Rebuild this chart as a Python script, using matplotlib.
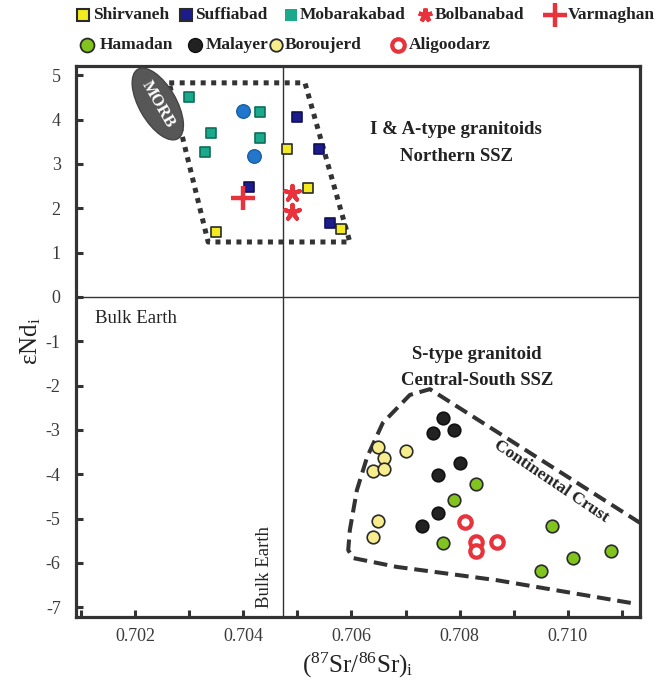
import matplotlib
matplotlib.use("Agg")
import matplotlib.pyplot as plt
import matplotlib.patches as mpatches
import matplotlib.transforms as mtransforms
from matplotlib.ticker import MultipleLocator

plt.rcParams["font.family"] = ["Liberation Serif", "DejaVu Serif"]
plt.rcParams["mathtext.fontset"] = "custom"
plt.rcParams["mathtext.rm"] = "Liberation Serif"
plt.rcParams["mathtext.it"] = "Liberation Serif:italic"
plt.rcParams["axes.unicode_minus"] = False

# ── data: (87Sr/86Sr)i and eNd(i) per locality ─────────────────────────── #
shirvaneh_sr = [0.7048, 0.7052, 0.7035, 0.7058]
shirvaneh_nd = [3.33, 2.45, 1.46, 1.53]
suffiabad_sr = [0.7050, 0.7054, 0.7041, 0.7056]
suffiabad_nd = [4.06, 3.34, 2.48, 1.66]
mobarakabad_sr = [0.7030, 0.7043, 0.7034, 0.7043, 0.7033]
mobarakabad_nd = [4.52, 4.17, 3.70, 3.58, 3.28]
bolbanabad_sr = [0.7049, 0.7049]
bolbanabad_nd = [2.34, 1.91]
varmaghan_sr = [0.7040]
varmaghan_nd = [2.24]
other_sr = [0.7040, 0.7042]          # blue circles (not in legend)
other_nd = [4.20, 3.17]

hamadan_sr = [0.7083, 0.7079, 0.7077, 0.7097, 0.7101, 0.7108, 0.7095]
hamadan_nd = [-4.23, -4.58, -5.54, -5.16, -5.90, -5.73, -6.18]
malayer_sr = [0.7077, 0.7075, 0.7079, 0.7080, 0.7076, 0.7076, 0.7073]
malayer_nd = [-2.74, -3.08, -3.00, -3.75, -4.02, -4.88, -5.16]
boroujerd_sr = [0.7065, 0.7070, 0.7066, 0.7064, 0.7066, 0.7065, 0.7064]
boroujerd_nd = [-3.38, -3.48, -3.63, -3.93, -3.88, -5.05, -5.42]
aligoodarz_sr = [0.7081, 0.7083, 0.7083, 0.7087]
aligoodarz_nd = [-5.07, -5.52, -5.73, -5.52]

# field outlines
north_field_sr = [0.70263, 0.70514, 0.70597, 0.70335, 0.70263]
north_field_nd = [4.83, 4.83, 1.24, 1.24, 4.83]
crust_field_sr = [0.71134, 0.70745, 0.70708, 0.70658, 0.70629, 0.70610,
                  0.70597, 0.70594, 0.70603, 0.70684, 0.70869, 0.71120]
crust_field_nd = [-5.10, -2.08, -2.21, -2.84, -3.61, -4.36,
                  -5.26, -5.71, -5.89, -6.09, -6.39, -6.91]

BULK_EARTH_SR = 0.70474
X_TICKS = [0.702, 0.704, 0.706, 0.708, 0.710]
Y_TICKS = list(range(-7, 6))

RED = "#e8323c"
EDGE = "#2a2a2a"
GRAY = "#333333"

fig = plt.figure(figsize=(6.71, 6.89), dpi=100)
ax = fig.add_axes([76 / 671, 72 / 689, 564 / 671, 551 / 689])

ax.set_xlim(0.700907, 0.711335)
ax.set_ylim(-7.22, 5.21)

# reference lines
ax.axhline(0, color=GRAY, lw=1.0, zorder=1)
ax.axvline(BULK_EARTH_SR, color=GRAY, lw=1.0, zorder=1)

# fields
ax.plot(north_field_sr, north_field_nd, color=GRAY, lw=3.6,
        linestyle=(0, (1, 1.1)), dash_capstyle="butt", zorder=2)
ax.plot(crust_field_sr, crust_field_nd, color=GRAY, lw=2.9,
        linestyle=(0, (3.4, 1.7)), solid_joinstyle="round", zorder=2)

# MORB ellipse (sized in inches around an axes-space centre)
morb_tr = fig.dpi_scale_trans + mtransforms.ScaledTranslation(0.145, 0.931, ax.transAxes)
ax.add_patch(mpatches.Ellipse((0, 0), 0.37, 0.80, angle=30, transform=morb_tr,
                              facecolor="#575757", edgecolor="#444444", lw=1, zorder=6))
ax.text(0.145, 0.931, "MORB", transform=ax.transAxes, rotation=-60, ha="center",
        va="center", color="white", fontsize=12, fontweight="bold", zorder=7)

# samples
sq = dict(marker="s", s=62, linewidths=1.2, zorder=5)
ax.scatter(shirvaneh_sr, shirvaneh_nd, c="#f3ea1f", edgecolors=EDGE, **sq)
ax.scatter(suffiabad_sr, suffiabad_nd, c="#1c1c8e", edgecolors="#111155", **sq)
ax.scatter(mobarakabad_sr, mobarakabad_nd, c="#1aa98d", edgecolors="#0e6e5a", **sq)
ax.scatter(other_sr, other_nd, marker="o", s=95, c="#2277cc", edgecolors="#1a5fa0",
           linewidths=1, zorder=5)
ax.scatter(bolbanabad_sr, bolbanabad_nd, marker=(5, 2, 0), s=120, c=RED,
           linewidths=3, zorder=5)
ax.scatter(varmaghan_sr, varmaghan_nd, marker="+", s=300, c=RED, linewidths=3.2, zorder=5)

circ = dict(marker="o", s=82, linewidths=1.2, zorder=5)
ax.scatter(hamadan_sr, hamadan_nd, c="#82c41e", edgecolors=EDGE, **circ)
ax.scatter(malayer_sr, malayer_nd, c="#222222", edgecolors="#111111", **circ)
ax.scatter(boroujerd_sr, boroujerd_nd, c="#f7ed8c", edgecolors=EDGE, **circ)
ax.scatter(aligoodarz_sr, aligoodarz_nd, marker="o", s=80, facecolors="white",
           edgecolors=RED, linewidths=3, zorder=5)

# annotations
bold = dict(fontsize=13.5, fontweight="bold", color="#222222", ha="center",
            va="center", transform=ax.transAxes)
ax.text(0.674, 0.884, "I & A-type granitoids", **bold)
ax.text(0.674, 0.835, "Northern SSZ", **bold)
ax.text(0.711, 0.4755, "S-type granitoid", **bold)
ax.text(0.711, 0.430, "Central-South SSZ", **bold)
ax.text(0.842, 0.247, "Continental Crust", fontsize=12.5, fontweight="bold",
        color="#222222", ha="center", va="center", rotation=-34,
        transform=ax.transAxes)
ax.text(0.034, 0.542, "Bulk Earth", fontsize=13.5, color="#222222", ha="left",
        va="center", transform=ax.transAxes)
ax.text(0.335, 0.091, "Bulk Earth", fontsize=13.5, color="#222222", ha="center",
        va="center", rotation=90, transform=ax.transAxes)

# axes styling
for sp in ax.spines.values():
    sp.set_linewidth(2.3)
    sp.set_color(GRAY)
ax.set_xticks(X_TICKS)
ax.set_xticklabels([f"{v:.3f}" for v in X_TICKS])
ax.xaxis.set_minor_locator(MultipleLocator(0.001))
ax.set_yticks(Y_TICKS)
ax.tick_params(which="both", direction="in", length=5, width=2.2, color=GRAY,
               top=False, right=False, labelsize=13, labelcolor="#3a3a3a")
ax.tick_params(axis="x", pad=8)
ax.tick_params(axis="y", pad=11)
ax.set_xlabel(r"($\mathregular{^{87}}$Sr/$\mathregular{^{86}}$Sr)$\mathregular{_i}$",
              fontsize=18, color="#222222", labelpad=4)
ax.set_ylabel(r"εNd$\mathregular{_i}$", fontsize=18, color="#222222", labelpad=2)

# legend drawn on a pixel-space overlay
lg = fig.add_axes([0, 0, 1, 1])
lg.set_xlim(0, 671)
lg.set_ylim(689, 0)
lg.axis("off")

legend_rows = [
    [("Shirvaneh", 83, 93, dict(marker="s", ms=9, mfc="#f3ea1f", mec=EDGE, mew=1.5)),
     ("Suffiabad", 186, 195, dict(marker="s", ms=9, mfc="#1c1c8e", mec=EDGE, mew=1.5)),
     ("Mobarakabad", 291, 300, dict(marker="s", ms=8.5, mfc="#1aa98d", mec="#1aa98d", mew=0)),
     ("Bolbanabad", 425, 435, dict(marker=(5, 2, 0), ms=10, mec=RED, mew=3)),
     ("Varmaghan", 555, 568, dict(marker="+", ms=17, mec=RED, mew=3.2))],
    [("Hamadan", 87, 100, dict(marker="o", ms=10, mfc="#82c41e", mec=EDGE, mew=1.3)),
     ("Malayer", 195, 206, dict(marker="o", ms=10, mfc="#222222", mec="#111111", mew=1)),
     ("Boroujerd", 276, 285, dict(marker="o", ms=9, mfc="#f7ed8c", mec=EDGE, mew=1.3)),
     ("Aligoodarz", 398, 409, dict(marker="o", ms=9, mfc="white", mec=RED, mew=3))],
]
for row, y in zip(legend_rows, [15, 45]):
    for label, mx, tx, style in row:
        lg.plot([mx], [y], linestyle="none", **style)
        lg.text(tx, y, label, fontsize=12.5, fontweight="bold", color="#222222",
                ha="left", va="center")

fig.savefig("out.png", dpi=100)
